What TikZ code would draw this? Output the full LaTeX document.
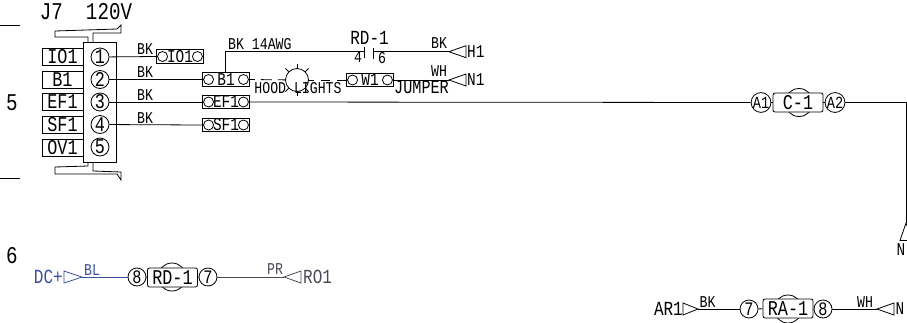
\documentclass[tikz,border=0pt]{standalone}
\usepackage{fontspec}
\usepackage{xcolor}
\usepackage{tikz}
\setmainfont[FakeStretch=0.8]{Liberation Mono}
\newcommand{\cadsize}[1]{\fontsize{#1}{#1}\selectfont}
\definecolor{wireblue}{HTML}{3A4F9A}
\definecolor{wiregray}{HTML}{4A4A55}
\tikzset{
  wire/.style={line width=0.8pt},
  txt/.style={inner sep=0pt, font=\cadsize{16.5}},
  tagtxt/.style={inner sep=0pt, font=\cadsize{18}},
  bigtxt/.style={inner sep=0pt, font=\cadsize{24}},
  pinbox/.style={draw, line width=0.8pt, minimum width=41pt, minimum height=17pt, inner sep=0pt, font=\cadsize{21}},
  pinring/.style={draw, circle, line width=0.8pt, minimum size=18pt, inner sep=0pt, font=\cadsize{21}},
  termbox/.style={draw, line width=0.9pt, minimum width=47pt, minimum height=13.5pt, inner sep=0pt, font=\cadsize{18}},
  termring/.style={draw, circle, line width=0.8pt, minimum size=10pt, inner sep=0pt},
  coilbox/.style={draw, fill=white, rounded corners=2pt, line width=0.8pt, minimum width=50pt, minimum height=19pt, inner sep=0pt, font=\cadsize{21}},
  coilring/.style={draw, circle, line width=0.8pt, minimum size=28pt, inner sep=0pt},
  endring/.style={draw, circle, line width=0.8pt, minimum size=18pt, inner sep=0pt, font=\cadsize{19}}
}
\begin{document}
\begin{tikzpicture}[x=1pt, y=-1pt]
  \clip (0,0) rectangle (907,322);
  \draw[wire] (0,25.5) -- (20,25.5);
  \draw[wire] (0,178.7) -- (20,178.7);
  \node[bigtxt] (row5) at (12,103) {5};
  \node[bigtxt] (row6) at (12,256) {6};
  \node[bigtxt] (j7) at (86,12) {J7~~120V};
  \draw[wire] (83.5,42.7) rectangle (116.7,162.3);
  \draw[wire] (88,42.7) -- (88,37) -- (55,37) -- (55,31) -- (117,29) -- (121,25) -- (121,33) -- (93,33) -- (93,42.7);
  \draw[wire] (88,162.3) -- (88,166) -- (55,167) -- (55,174) -- (117,174) -- (121,180) -- (121,172) -- (93,171) -- (93,162.3);
  \node[pinbox] (io1pin) at (62.5,56.5) {IO1};
  \node[pinbox] (b1pin) at (62.5,79.5) {B1};
  \node[pinbox] (ef1pin) at (62.5,102) {EF1};
  \node[pinbox] (sf1pin) at (62.5,124.5) {SF1};
  \node[pinbox] (ov1pin) at (62.5,147.5) {OV1};
  \node[pinring] (pin1) at (100,57) {1};
  \node[pinring] (pin2) at (100,79.5) {2};
  \node[pinring] (pin3) at (100,102) {3};
  \node[pinring] (pin4) at (100,124.5) {4};
  \node[pinring] (pin5) at (100,147) {5};
  \node[termbox] (io1term) at (180,56.5) {IO1};
  \node[termbox] (b1term) at (226,79.5) {B1};
  \node[termbox] (ef1term) at (226,102) {EF1};
  \node[termbox] (sf1term) at (226,125) {SF1};
  \node[termbox] (w1term) at (370,80) {W1};
  \foreach \t in {io1term,b1term,ef1term,sf1term,w1term} {
    \node[termring] (\t l) at ([xshift=6.5pt]\t.west) {};
    \node[termring] (\t r) at ([xshift=-6.5pt]\t.east) {};
  }
  \draw[wire] (pin1) -- (io1term.west);
  \draw[wire] (pin2) -- (b1term.west);
  \draw[wire] (pin3) -- (ef1term.west);
  \draw[wire] (pin4) -- (sf1term.west);
  \node[txt] (bk1) at (145,49) {BK};
  \node[txt] (bk2) at (145,72) {BK};
  \node[txt] (bk3) at (145,95) {BK};
  \node[txt] (bk4) at (145,118) {BK};
  \coordinate (b1up) at (225.5,51.7);
  \coordinate (h1tip) at (449,51.7);
  \coordinate (n1tip) at (449,80);
  \node[txt, anchor=west] (awg) at (228,44.5) {BK 14AWG};
  \draw[wire] (b1term.north -| b1up) -- (b1up) -- (364,51.7);
  \draw[wire] (364,46.5) -- (364,58);
  \draw[wire] (373,48) -- (373,58.5);
  \draw[wire] (373,51.7) -- (h1tip);
  \draw[wire] (h1tip) -- ++(17,-6) -- ++(0,12) -- cycle;
  \draw[wire] (w1term.east) -- (n1tip);
  \draw[wire] (n1tip) -- ++(17,-6) -- ++(0,12) -- cycle;
  \node[txt, font=\cadsize{20}] (rd1top) at (369.5,38) {RD-1};
  \node[txt] (c4) at (358,57.5) {4};
  \node[txt] (c6) at (382,58) {6};
  \node[txt] (bkh1) at (439,43) {BK};
  \node[txt] (wh1) at (439,71) {WH};
  \node[tagtxt, anchor=west] (h1) at (467,52) {H1};
  \node[tagtxt, anchor=west] (n1) at (467,80) {N1};
  \node[draw, circle, line width=0.8pt, minimum size=23pt, inner sep=0pt] (lamp) at (297,80) {};
  \foreach \a in {45,90,135,225,270,315} {
    \draw[wire] (lamp.\a) -- ([shift={(\a:4.5pt)}]lamp.\a);
  }
  \draw[wire, dash pattern=on 11pt off 6pt, dash phase=6pt] (b1term.east) -- (lamp);
  \draw[wire, dash pattern=on 9pt off 7pt] (w1term.west) -- (lamp.east);
  \node[txt] (hood) at (298,88) {HOOD LIGHTS};
  \node[txt, font=\cadsize{19}] (jumper) at (421.5,87) {JUMPER};
  \node[coilring] (c1ring) at (799,102.5) {};
  \node[coilbox] (c1) at (798,102.5) {C-1};
  \node[endring, font=\cadsize{17}] (a1) at (761,102.5) {A1};
  \node[endring, font=\cadsize{17}] (a2) at (835,102.5) {A2};
  \coordinate (ntip) at (906,223);
  \coordinate (ncorner) at (906,102.5);
  \draw[wire] (ef1term.east) -- (a1);
  \draw[wire] (a1) -- (c1);
  \draw[wire] (c1) -- (a2);
  \draw[wire] (a2) -- (ncorner) -- (ntip);
  \draw[wire] (ntip) -- ++(-6,17.5) -- ++(12,0) -- cycle;
  \node[tagtxt] (n) at (901,250) {N};
  \begin{scope}[wireblue]
    \coordinate (dctip) at (82,277);
    \node[tagtxt, anchor=east, text=wireblue, font=\cadsize{20}] (dc) at (63,277) {DC+};
    \draw[wire] (dctip) -- ++(-18,-6) -- ++(0,12) -- cycle;
    \node[txt, text=wireblue] (bl) at (92,270) {BL};
  \end{scope}
  \node[coilring] (rd1ring) at (172,277) {};
  \node[coilbox] (rd1) at (172.5,277.5) {RD-1};
  \node[endring] (rd8) at (137,277) {8};
  \node[endring] (rd7) at (208,277) {7};
  \draw[wire, wireblue] (dctip) -- (rd8);
  \draw[wire] (rd8) -- (rd1);
  \draw[wire] (rd1) -- (rd7);
  \coordinate (rotip) at (284,277);
  \draw[wire, wiregray] (rd7) -- (rotip);
  \draw[wire, wiregray] (rotip) -- ++(17,-6) -- ++(0,12) -- cycle;
  \node[txt, text=wiregray] (pr) at (275,269) {PR};
  \node[tagtxt, anchor=west, text=wiregray, font=\cadsize{20}] (ro1) at (303,277) {RO1};
  \node[tagtxt, anchor=east, font=\cadsize{20}] (ar1) at (683,309) {AR1};
  \coordinate (artip) at (698,309);
  \draw[wire] (artip) -- ++(-15,-6) -- ++(0,12) -- cycle;
  \node[txt] (bkar) at (707.5,302) {BK};
  \node[coilring] (ra1ring) at (788,309) {};
  \node[coilbox] (ra1) at (788,308.5) {RA-1};
  \node[endring] (ra7) at (749,309) {7};
  \node[endring] (ra8) at (823,309) {8};
  \draw[wire] (artip) -- (ra7);
  \draw[wire] (ra7) -- (ra1);
  \draw[wire] (ra1) -- (ra8);
  \coordinate (nbtip) at (877,309);
  \draw[wire] (ra8) -- (nbtip);
  \draw[wire] (nbtip) -- ++(17,-6) -- ++(0,12) -- cycle;
  \node[txt] (wh2) at (865,302) {WH};
  \node[tagtxt, anchor=west] (nb) at (895.5,309) {N};
\end{tikzpicture}
\end{document}
